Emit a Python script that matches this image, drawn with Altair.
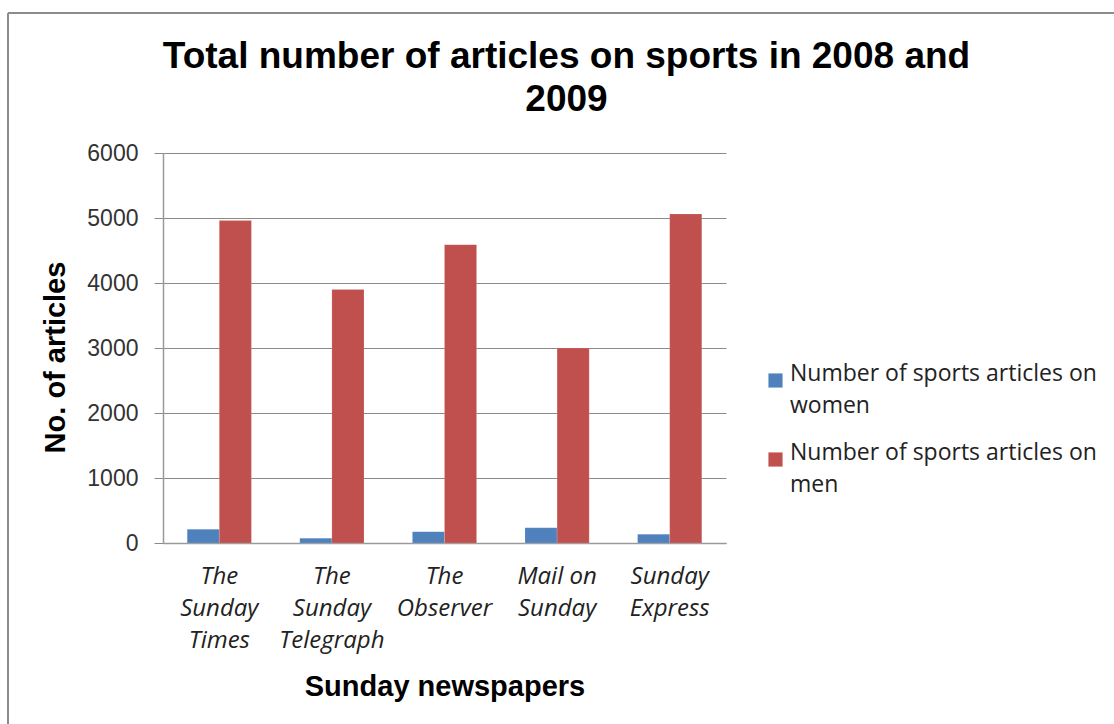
import altair as alt
import pandas as pd

# Data
papers = ["The Sunday Times", "The Sunday Telegraph", "The Observer", "Mail on Sunday", "Sunday Express"]
paper_labels = ["The|Sunday|Times", "The|Sunday|Telegraph", "The|Observer", "Mail on|Sunday", "Sunday|Express"]
women = [210, 75, 175, 235, 135]
men = [4960, 3900, 4590, 3000, 5060]
series_names = ["Number of sports articles on|women", "Number of sports articles on|men"]
series_colors = ["#4F81BD", "#C0504D"]

rows = []
for lab, w, m in zip(paper_labels, women, men):
    rows.append({"paper": lab, "series": series_names[0], "value": w})
    rows.append({"paper": lab, "series": series_names[1], "value": m})
df = pd.DataFrame(rows)

bars = alt.Chart(df).mark_bar(stroke="#ffffff", strokeOpacity=0.25, strokeWidth=0.5).encode(
    x=alt.X("paper:N", sort=paper_labels,
            scale=alt.Scale(paddingInner=0.43, paddingOuter=0.215),
            axis=alt.Axis(title="Sunday newspapers", labelAngle=0,
                          labelExpr="split(datum.label, '|')",
                          labelFont="Open Sans", labelFontStyle="italic", labelFontSize=24,
                          labelColor="#222222", labelLineHeight=32, labelPadding=21,
                          labelBaseline="top",
                          ticks=False, domainColor="#9a9a9a", domainWidth=1.5,
                          titleFont="Liberation Sans", titleFontSize=29, titleFontWeight="bold",
                          titleColor="#000000", titlePadding=20, labelLimit=200)),
    xOffset=alt.XOffset("series:N", sort=series_names),
    y=alt.Y("value:Q", scale=alt.Scale(domain=[0, 6000], nice=False),
            axis=alt.Axis(title="No. of articles", values=[0, 1000, 2000, 3000, 4000, 5000, 6000],
                          format="d", labelFont="Liberation Sans", labelFontSize=23,
                          labelColor="#333333", labelPadding=16, tickSize=9,
                          tickColor="#8a8a8a", gridColor="#8a8a8a", gridWidth=1,
                          domainColor="#9a9a9a", domainWidth=1.5,
                          titleFont="Liberation Sans", titleFontSize=29, titleFontWeight="bold",
                          titleColor="#000000", titlePadding=16, titleY=204)),
    color=alt.Color("series:N", sort=series_names,
                    scale=alt.Scale(domain=series_names, range=series_colors),
                    legend=alt.Legend(title=None, orient="none", legendX=601, legendY=216,
                                      labelExpr="split(datum.label, '|')",
                                      labelFont="Open Sans", labelFontSize=23, labelColor="#222222",
                                      labelBaseline="alphabetic",
                                      labelLimit=400, symbolType="square", symbolSize=200,
                                      symbolStrokeWidth=0, labelOffset=3, rowPadding=23)),
)

frame = alt.Chart(pd.DataFrame({"a": [0]})).mark_rule(color="#8c8c8c", strokeWidth=2).encode(
    x=alt.value(-155), y=alt.value(-140), y2=alt.value(600))
frame_top = alt.Chart(pd.DataFrame({"a": [0]})).mark_rule(color="#8c8c8c", strokeWidth=2).encode(
    x=alt.value(-155), x2=alt.value(1000), y=alt.value(-140))

chart = alt.layer(frame, frame_top, bars).properties(
    width=563, height=390,
    autosize=alt.AutoSizeParams(type="none"),
    padding={"left": 163, "top": 153, "right": 388, "bottom": 181},
    title=alt.Title(["Total number of articles on sports in 2008 and", "2009"],
                    font="Liberation Sans", fontSize=37, fontWeight="bold", color="#000000",
                    anchor="middle", frame="group", dx=122, dy=107, lineHeight=43,
                    baseline="top", offset=0),
).configure(background="white", view={"stroke": "transparent"},
            style={"guide-label": {"lineHeight": 32}})

chart.save("out.html", embed_options={"renderer": "svg", "actions": False})
